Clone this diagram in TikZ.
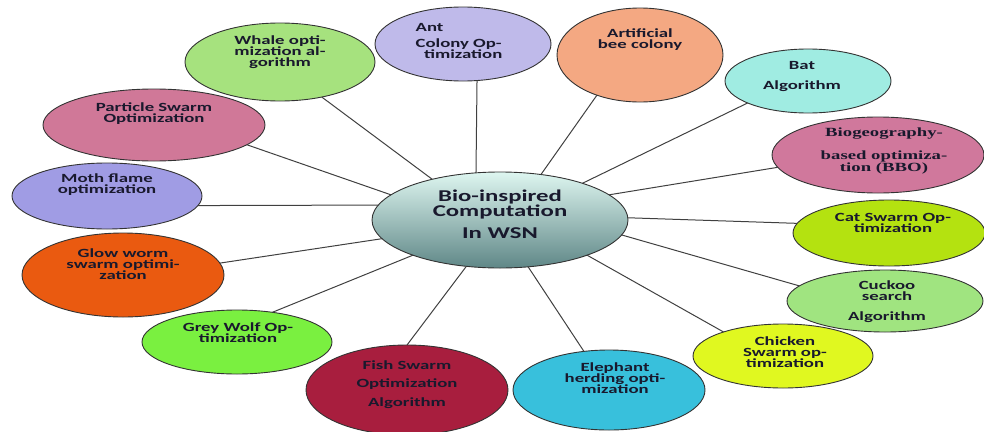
\documentclass[tikz,border=0pt]{standalone}
\usepackage{fontspec}
\newfontfamily\lblfont[FakeStretch=1.5]{Carlito}
\newfontfamily\serfont[FakeStretch=1.5]{Liberation Serif}
\usetikzlibrary{shapes.geometric}
\definecolor{txtcol}{RGB}{25,25,45}
\definecolor{ctop}{RGB}{222,246,240}
\definecolor{cbot}{RGB}{95,135,135}
\definecolor{cwhale}{RGB}{166,226,126}
\definecolor{cant}{RGB}{191,186,234}
\definecolor{cbee}{RGB}{244,168,130}
\definecolor{cbat}{RGB}{160,236,226}
\definecolor{cbio}{RGB}{208,120,156}
\definecolor{ccat}{RGB}{180,226,16}
\definecolor{ccuckoo}{RGB}{160,228,128}
\definecolor{cchicken}{RGB}{224,248,32}
\definecolor{celephant}{RGB}{56,192,220}
\definecolor{cfish}{RGB}{168,30,62}
\definecolor{cwolf}{RGB}{122,240,64}
\definecolor{cglow}{RGB}{234,90,16}
\definecolor{cmoth}{RGB}{160,156,228}
\definecolor{cparticle}{RGB}{208,120,152}
\begin{document}
\begin{tikzpicture}[x=1pt,y=-1pt,
  bub/.style={ellipse, draw=black!80, line width=0.9pt, inner sep=0pt, outer sep=0pt},
  txt/.style={font=\lblfont\bfseries\fontsize{12.5}{11}\selectfont, align=center, text=txtcol, inner sep=0pt},
  stxt/.style={font=\serfont\bfseries\fontsize{12.5}{10}\selectfont, align=center, text=txtcol, inner sep=0pt},
  link/.style={draw=black!75, line width=1pt}]
\useasboundingbox (0,0) rectangle (984,431);

% bubbles
\node[bub, top color=ctop, bottom color=cbot, minimum width=256pt, minimum height=96pt] (c) at (500,220) {};
\node[bub, fill=cwhale, minimum width=190pt, minimum height=78pt] (whale) at (280,62) {};
\node[bub, fill=cant, minimum width=176pt, minimum height=74pt] (ant) at (463,44) {};
\node[bub, fill=cbee, minimum width=166pt, minimum height=94pt] (bee) at (640,55) {};
\node[bub, fill=cbat, minimum width=166pt, minimum height=64pt] (bat) at (808,81) {};
\node[bub, fill=cbio, minimum width=212pt, minimum height=76pt] (bio) at (878,155) {};
\node[bub, fill=ccat, minimum width=192pt, minimum height=66pt] (cat) at (889,233) {};
\node[bub, fill=ccuckoo, minimum width=196pt, minimum height=62pt] (cuckoo) at (885,301) {};
\node[bub, fill=cchicken, minimum width=180pt, minimum height=64pt] (chicken) at (783,356) {};
\node[bub, fill=celephant, minimum width=192pt, minimum height=80pt] (elephant) at (609,390) {};
\node[bub, fill=cfish, minimum width=202pt, minimum height=90pt] (fish) at (407,390) {};
\node[bub, fill=cwolf, minimum width=190pt, minimum height=64pt] (wolf) at (237,342) {};
\node[bub, fill=cglow, minimum width=202pt, minimum height=84pt] (glow) at (123,275) {};
\node[bub, fill=cmoth, minimum width=190pt, minimum height=66pt] (moth) at (107,196) {};
\node[bub, fill=cparticle, minimum width=222pt, minimum height=72pt] (particle) at (154,125) {};

% connectors
\draw[link] (whale.-40.6) -- (c.149.5);
\draw[link] (ant.-69) -- (c.117);
\draw[link] (bee.-137) -- (c.48.4);
\draw[link] (bat.-160) -- (c.24);
\draw[link] (bio.-173) -- (c.13);
\draw[link] (cat.174) -- (c.1.5);
\draw[link] (cuckoo.170) -- (c.-7.6);
\draw[link] (chicken.158) -- (c.-22.7);
\draw[link] (elephant.123) -- (c.-59);
\draw[link] (fish.90) -- (c.-126);
\draw[link] (wolf.40) -- (c.-158);
\draw[link] (glow.7.5) -- (c.-171);
\draw[link] (moth.-6) -- (c.173.5);
\draw[link] (particle.-12) -- (c.167);

% labels
\node[txt, font=\lblfont\bfseries\fontsize{16.5}{14}\selectfont] (tc) at (500,214) {Bio-inspired\\Computation\\[8pt]In WSN};
\node[txt] (twhale) at (280,52) {Whale opti-\\mization al-\\gorithm};
\node[txt, align=left] (tant) at (459,40.5) {Ant\\[5pt]Colony Op-\\\hspace*{8.4pt}timization};
\node[txt] (tbee) at (640,39.5) {Artificial\\bee colony};
\node[txt] (tbat) at (802,77) {Bat\\[9pt]Algorithm};
\node[stxt] (tbio) at (884,151) {Biogeography-\\[11pt]based optimiza-\\tion (BBO)};
\node[txt] (tcat) at (893,222.5) {Cat Swarm Op-\\timization};
\node[txt] (tcuckoo) at (887,301.5) {Cuckoo\\search\\[9pt]Algorithm};
\node[txt] (tchicken) at (785,352) {Chicken\\Swarm op-\\timization};
\node[txt] (telephant) at (615,378.5) {Elephant\\herding opti-\\mization};
\node[txt] (tfish) at (407,384.5) {Fish Swarm\\[7.5pt]Optimization\\[7.5pt]Algorithm};
\node[txt] (twolf) at (238,333) {Grey Wolf Op-\\timization};
\node[txt] (tglow) at (123,264.5) {Glow worm\\swarm optimi-\\zation};
\node[txt] (tmoth) at (107,185) {Moth flame\\optimization};
\node[txt] (tparticle) at (154,113.5) {Particle Swarm\\Optimization};
\end{tikzpicture}
\end{document}
